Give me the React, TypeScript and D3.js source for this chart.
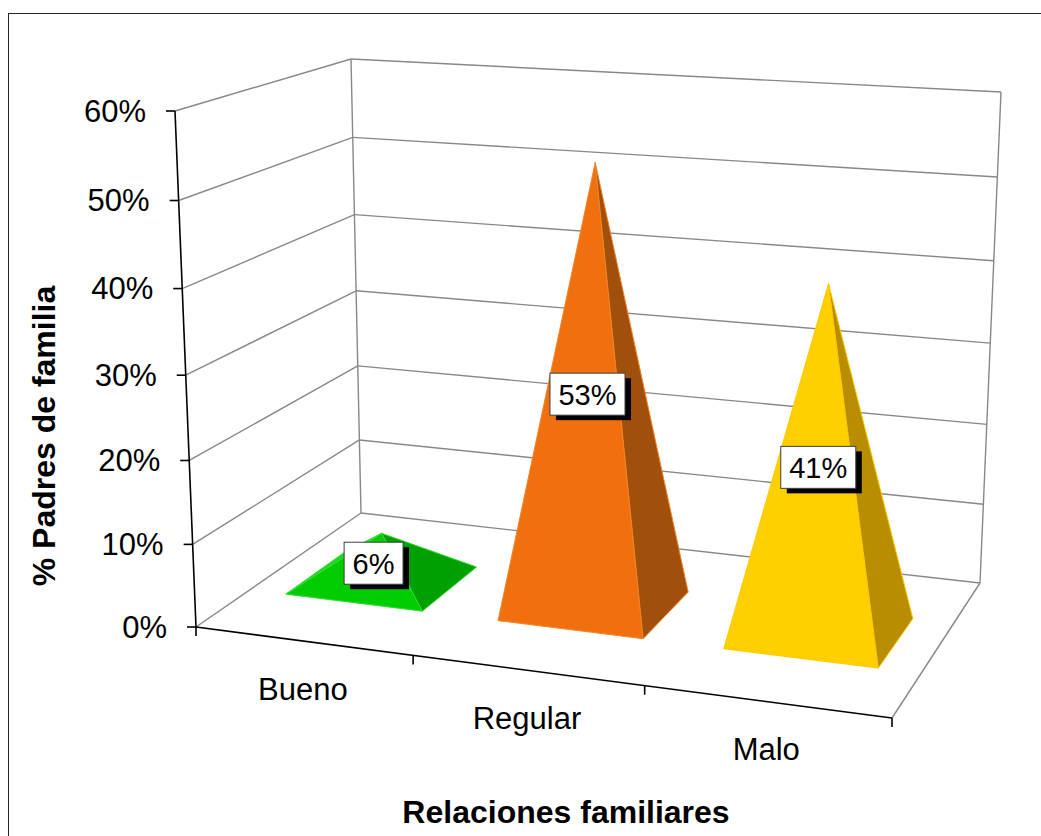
import React from 'react';
import * as d3 from 'd3';

// Data
const categories = ['Bueno', 'Regular', 'Malo'];
const values = [0.06, 0.53, 0.41];
const yTicks = [0, 0.1, 0.2, 0.3, 0.4, 0.5, 0.6];

// Face colours per pyramid: front, right, left, edge
const frontColors = ['#00cc00', '#f07010', '#ffd000'];
const rightColors = ['#00a000', '#a0500a', '#b88e00'];
const leftColors = ['#22d422', '#f48530', '#ffda30'];
const edgeColors = ['#33dd33', '#f58425', '#ffc800'];

const W = 1041;
const H = 836;
const FONT = '"Liberation Sans", Arial, sans-serif';

// corners of the 3D plot box as seen on screen (f/b = front/back, b/t = bottom/top, l/r)
const box: Record<string, [number, number]> = {
  fbl: [196, 627], ftl: [175, 111], bbl: [361, 513], btl: [351, 59],
  fbr: [892, 718], ftr: [910, 150], bbr: [980, 583], btr: [1001, 92],
};
// depth factors along u (categories), v (values), w (depth)
const persp = { u: -0.093, v: -0.047, w: 0.136 };

function project(u: number, v: number, w: number): [number, number] {
  let sx = 0, sy = 0, sw = 0;
  for (const cu of [0, 1]) for (const cv of [0, 1]) for (const cw of [0, 1]) {
    const key = (cw ? 'b' : 'f') + (cv ? 't' : 'b') + (cu ? 'r' : 'l');
    const b = (cu ? u : 1 - u) * (cv ? v : 1 - v) * (cw ? w : 1 - w);
    const z = 1 + persp.u * cu + persp.v * cv + persp.w * cw;
    const p = box[key];
    sx += b * z * p[0];
    sy += b * z * p[1];
    sw += b * z;
  }
  return [sx / sw, sy / sw];
}

const x = d3.scaleBand<string>().domain(categories).range([0, 1]).paddingInner(0.35).paddingOuter(0.175);
const xb = d3.scaleBand<string>().domain(categories).range([0, 1]);
const y = d3.scaleLinear().domain([0, 0.6]).range([0, 1]);
const depth = d3.scaleLinear().domain([0, 1]).range([0.3, 0.67]);
const pct = d3.format('.0%');

const line = (a: number[], b: number[]) => `M${a[0]},${a[1]}L${b[0]},${b[1]}`;
const cross = (o: number[], a: number[], b: number[]) =>
  (a[0] - o[0]) * (b[1] - o[1]) - (a[1] - o[1]) * (b[0] - o[0]);

const App = () => {
  const grid: string[] = [];
  yTicks.forEach(t => {
    grid.push(line(project(0, y(t), 1), project(1, y(t), 1)));
    grid.push(line(project(0, y(t), 0), project(0, y(t), 1)));
  });
  grid.push(line(project(0, 0, 1), project(0, 1, 1)));
  grid.push(line(project(1, 0, 1), project(1, 1, 1)));
  grid.push(line(project(1, 0, 1), project(1, 0, 0)));

  const pyramids = categories.map((c, i) => {
    const u0 = x(c)!;
    const u1 = u0 + x.bandwidth();
    const um = (u0 + u1) / 2;
    const w0 = depth(0), w1 = depth(1), wm = depth(0.5);
    const L = project(u0, 0, w0);
    const F = project(u1, 0, w0);
    const R = project(u1, 0, w1);
    const B = project(u0, 0, w1);
    const A = project(um, y(values[i]), wm);
    const C = project(um, 0, wm);
    const edges: [number[], number[], string][] = [
      [L, F, frontColors[i]],
      [F, R, rightColors[i]],
      [R, B, rightColors[i]],
      [B, L, leftColors[i]],
    ];
    // only faces turned towards the viewer
    const faces = edges
      .filter(([p, q]) => Math.sign(cross(p, q, A)) === Math.sign(cross(p, q, C)))
      .map(([p, q, col], k) => (
        <path key={k} d={`M${p[0]},${p[1]}L${q[0]},${q[1]}L${A[0]},${A[1]}Z`}
          fill={col} stroke={edgeColors[i]} strokeWidth={1} strokeLinejoin="round" />
      ));
    return <g key={c}>{faces}</g>;
  });

  const labels = categories.map((c, i) => {
    const um = x(c)! + x.bandwidth() / 2;
    const [lx, ly] = project(um, y(values[i] / 2), 0.43);
    const text = pct(values[i]);
    const fs = 29;
    const tw = fs * (0.556 * (text.length - 1) + 0.889);
    const bw = tw + 17;
    const bh = 42;
    return (
      <g key={c} transform={`translate(${lx - bw / 2},${ly - bh / 2})`}>
        <rect x={6} y={5} width={bw} height={bh} fill="#000" />
        <rect x={0} y={0} width={bw} height={bh} fill="#fff" stroke="#404040" strokeWidth={1} />
        <text x={bw / 2} y={bh / 2} dy="0.36em" textAnchor="middle" fontSize={fs} fontFamily={FONT}>{text}</text>
      </g>
    );
  });

  const p00 = project(0, 0, 0);
  const p10 = project(1, 0, 0);
  const p01 = project(0, 1, 0);
  const tickUs = [...categories.map(c => xb(c)!), 1];

  return (
    <svg width={W} height={H} style={{ position: 'absolute', left: 0, top: 0, background: '#fff' }}>
      <rect x={8.5} y={13.5} width={W} height={H} fill="#fff" stroke="#262626" strokeWidth={1} />
      <g fill="none" stroke="#888" strokeWidth={1.4}>
        {grid.map((d, i) => <path key={i} d={d} />)}
      </g>
      <g stroke="#000" strokeWidth={1.6} fill="none">
        <path d={line(p00, p01)} />
        <path d={line(p00, p10)} />
        {yTicks.map(t => {
          const p = project(0, y(t), 0);
          return <path key={t} d={line([p[0] - 9, p[1]], p)} />;
        })}
        {tickUs.map(u => {
          const p = project(u, 0, 0);
          return <path key={u} d={line(p, [p[0], p[1] + 9])} />;
        })}
      </g>
      <g fontFamily={FONT} fontSize={31} fill="#000">
        {yTicks.map(t => {
          const p = project(0, y(t), 0);
          return <text key={t} x={p[0] - 29} y={p[1]} dy="0.35em" textAnchor="end">{pct(t)}</text>;
        })}
        {categories.map(c => {
          const p = project(xb(c)! + xb.bandwidth() / 2, 0, 0);
          return <text key={c} x={p[0]} y={p[1] + 48} dy="0.35em" textAnchor="middle">{c}</text>;
        })}
      </g>
      {pyramids}
      {labels}
      <text x={566} y={823} textAnchor="middle" fontFamily={FONT} fontSize={32} fontWeight="bold">Relaciones familiares</text>
      <text transform="translate(55,436) rotate(-90)" textAnchor="middle" fontFamily={FONT} fontSize={32} fontWeight="bold">% Padres de familia</text>
    </svg>
  );
};

export default App;
